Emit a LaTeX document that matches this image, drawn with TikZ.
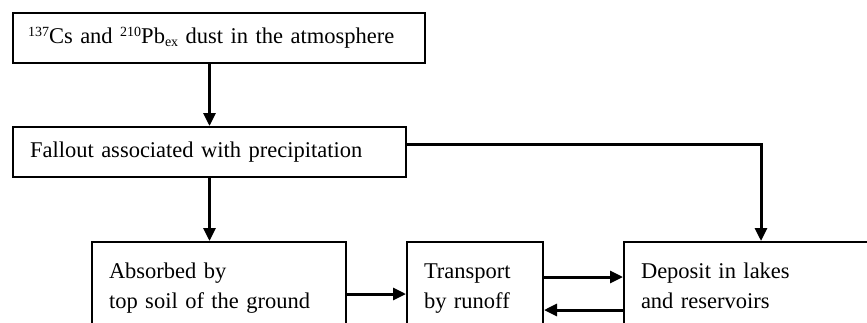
\documentclass[tikz,border=0pt]{standalone}
\usepackage{fontspec}
\setmainfont{Liberation Serif}
\usetikzlibrary{arrows.meta}

\newcommand{\isosup}[1]{\raisebox{7pt}{\fontsize{14}{14}\selectfont #1}}
\newcommand{\isosub}[1]{\raisebox{-3pt}{\fontsize{14}{14}\selectfont #1}}

\tikzset{
    box/.style={draw, line width=2pt, anchor=north west, inner xsep=17pt, inner ysep=0pt,
        align=left, font=\fontsize{22.5}{30}\selectfont},
    flow/.style={line width=3pt, -{Triangle[length=13pt, width=12pt]}}
}

\begin{document}
\begin{tikzpicture}[x=1pt, y=1pt]
    \path[use as bounding box, clip] (0,0) rectangle (867,-322);

    \node[box, inner xsep=15pt, text width=382pt, minimum height=50pt] (atmos) at (12,-12)
        {\isosup{137}Cs and \isosup{210}Pb\isosub{ex} dust in the atmosphere};
    \node[box, text width=359pt, minimum height=50pt] (fallout) at (12,-126)
        {Fallout associated with precipitation};
    \node[box, text width=220pt, minimum height=104pt, text depth=46pt] (soil) at (91,-241)
        {Absorbed by\\top soil of the ground};
    \node[box, text width=102pt, minimum height=104pt, text depth=46pt] (runoff) at (406,-241)
        {Transport\\by runoff};
    \node[box, text width=240pt, minimum height=104pt, text depth=46pt] (lakes) at (623,-241)
        {Deposit in lakes\\and reservoirs};

    \draw[flow] (atmos.south -| fallout.north) -- (fallout.north);
    \draw[flow] (fallout.south) -- (fallout.south |- soil.north);
    \draw[flow] ([yshift=8pt]fallout.east) -| (lakes.north);
    \draw[flow] (soil.east) -- (soil.east -| runoff.west);
    \draw[flow] ([yshift=17pt]runoff.east) -- ([yshift=17pt]runoff.east -| lakes.west);
    \draw[flow] ([yshift=-16pt]lakes.west) -- ([yshift=-16pt]lakes.west -| runoff.east);
\end{tikzpicture}
\end{document}
